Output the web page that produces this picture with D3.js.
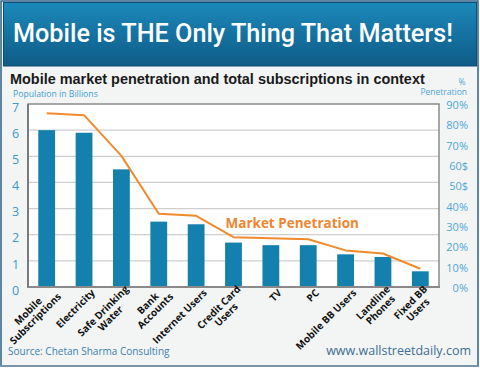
<!DOCTYPE html>
<html><head><meta charset="utf-8">
<script src="https://cdn.jsdelivr.net/npm/d3@7"></script>
<style>body{margin:0;background:#fff}svg{display:block}</style>
</head><body>
<svg id="c" width="480" height="368"></svg>
<script>
const categories = ["Mobile Subscriptions","Electricity","Safe Drinking Water","Bank Accounts","Internet Users","Credit Card Users","TV","PC","Mobile BB Users","Landline Phones","Fixed BB Users"];
const labelLines = [["Mobile","Subscriptions"],["Electricity"],["Safe Drinking","Water"],["Bank","Accounts"],["Internet Users"],["Credit Card","Users"],["TV"],["PC"],["Mobile BB Users"],["Landline","Phones"],["Fixed BB","Users"]];
const subscriptions = [6.0, 5.9, 4.5, 2.5, 2.4, 1.7, 1.6, 1.6, 1.25, 1.15, 0.6];
const penetration = [85.5, 84.5, 64.5, 36, 35, 24.5, 24, 23.5, 18, 16.5, 9];
const leftTicks = [0,1,2,3,4,5,6,7];
const rightTicks = [0,10,20,30,40,50,60,70,80,90];
const rightTickLabels = ["0%","10%","20%","30%","40%","50$","60$","70%","80%","90%"];
const title = "Mobile is THE Only Thing That Matters!";
const subtitle = "Mobile market penetration and total subscriptions in context";

const svg = d3.select("#c");
const plot = {l: 28, r: 439, t: 104, b: 287};

// frame
svg.append("rect").attr("x",1).attr("y",1).attr("width",477).attr("height",365)
  .attr("fill","#f3f5f5").attr("stroke","#2d5f88").attr("stroke-width",1.5);
svg.append("line").attr("x1",1).attr("x2",478).attr("y1",366).attr("y2",366)
  .attr("stroke","#7893aa").attr("stroke-width",2);

// banner
const defs = svg.append("defs");
const grad = defs.append("linearGradient").attr("id","bg").attr("x1",0).attr("x2",0).attr("y1",0).attr("y2",1);
grad.append("stop").attr("offset","0%").attr("stop-color","#1b89bb");
grad.append("stop").attr("offset","100%").attr("stop-color","#0f5b86");
svg.append("rect").attr("x",3.5).attr("y",2.5).attr("width",473).attr("height",63.5)
  .attr("fill","url(#bg)").attr("stroke","#0e4d75").attr("stroke-width",1);

function fit(sel, target){
  const len = sel.node().getComputedTextLength();
  if (len>0){ const fs = parseFloat(sel.attr("font-size")); sel.attr("font-size", fs*target/len); }
}
const t = svg.append("text").attr("x",13).attr("y",42).attr("fill","#fff")
  .attr("font-family","Roboto, 'DejaVu Sans', sans-serif").attr("font-weight",500)
  .attr("font-size",23).text(title);
fit(t, 440);

const st = svg.append("text").attr("x",10).attr("y",84).attr("fill","#1a1a1a")
  .attr("font-family","'Liberation Sans', Arial, sans-serif").attr("font-weight","bold")
  .attr("font-size",14).text(subtitle);
fit(st, 415);

// scales
const x = d3.scaleBand().domain(categories).range([plot.l, plot.r]).paddingInner(0.55).paddingOuter(0.275);
const y = d3.scaleLinear().domain([0,7]).range([plot.b, plot.t]);
const yp = d3.scaleLinear().domain([0,90]).range([plot.b, plot.t]);

// plot bg
svg.append("rect").attr("x",plot.l).attr("y",plot.t).attr("width",plot.r-plot.l).attr("height",plot.b-plot.t).attr("fill","#fff");

// grid
svg.append("g").selectAll("line").data(leftTicks.filter(d=>d>0 && d<7)).join("line")
  .attr("x1",plot.l).attr("x2",plot.r).attr("y1",d=>y(d)).attr("y2",d=>y(d))
  .attr("stroke","#cfcfcf").attr("stroke-width",1.2);

// bars
svg.append("g").selectAll("rect").data(categories).join("rect")
  .attr("x",d=>x(d)).attr("width",x.bandwidth())
  .attr("y",(d,i)=>y(subscriptions[i])).attr("height",(d,i)=>y(0)-y(subscriptions[i]))
  .attr("fill","#1480ad");

// border
svg.append("path").attr("d",`M${plot.l},${plot.b}V${plot.t}H${plot.r}V${plot.b}`)
  .attr("fill","none").attr("stroke","#8a8a8a").attr("stroke-width",1.5);
svg.append("line").attr("x1",plot.l-1).attr("x2",plot.r+1).attr("y1",plot.b).attr("y2",plot.b)
  .attr("stroke","#8a8a8a").attr("stroke-width",2);
svg.append("line").attr("x1",plot.l).attr("x2",plot.l).attr("y1",plot.t).attr("y2",plot.b)
  .attr("stroke","#7a7a7a").attr("stroke-width",2);

// line
const line = d3.line().x((d,i)=>x(categories[i])+x.bandwidth()/2).y(d=>yp(d));
svg.append("path").datum(penetration).attr("d",line).attr("fill","none")
  .attr("stroke","#ef8a2d").attr("stroke-width",2).attr("stroke-linejoin","round");

svg.append("text").attr("x",x(categories[5])+x.bandwidth()/2-8).attr("y",yp(29))
  .attr("fill","#ee8530").attr("font-family","'Open Sans', sans-serif").attr("font-weight","bold")
  .attr("font-size",13.5).text("Market Penetration");

// left axis
const gl = svg.append("g").attr("transform",`translate(${plot.l},0)`)
  .call(d3.axisLeft(y).tickValues(leftTicks).tickSize(0).tickPadding(9).tickFormat(d3.format("d")));
gl.select(".domain").remove();
gl.selectAll("text").attr("font-family","'Open Sans', sans-serif").attr("font-size",12.5)
  .attr("fill","#3a98cc").attr("text-anchor","middle").attr("x",-12.5).attr("dy","0.58em");

// right axis
const gr = svg.append("g").attr("transform",`translate(${plot.r},0)`)
  .call(d3.axisRight(yp).tickValues(rightTicks).tickSize(0).tickPadding(0).tickFormat((d,i)=>rightTickLabels[i]));
gr.select(".domain").remove();
gr.selectAll("text").attr("font-family","'Open Sans', sans-serif").attr("font-size",11)
  .attr("fill","#4ea6d8").attr("text-anchor","end").attr("x",29).attr("dy","0.4em");

// axis titles
const pt = svg.append("text").attr("x",13).attr("y",96.5).attr("fill","#3f9fd2")
  .attr("font-family","'Open Sans', sans-serif").attr("font-size",8.5).text("Population in Billions");
fit(pt, 85);
svg.append("text").attr("x",462).attr("y",85).attr("text-anchor","middle").attr("fill","#4ea6d8")
  .attr("font-family","'Open Sans', sans-serif").attr("font-size",8.5).text("%");
svg.append("text").attr("x",467).attr("y",94.5).attr("text-anchor","end").attr("fill","#4ea6d8")
  .attr("font-family","'Open Sans', sans-serif").attr("font-size",8.5).text("Penetration");

// x labels
const lh = 10.5;
categories.forEach((c,i)=>{
  const g = svg.append("g").attr("transform",`translate(${x(c)+x.bandwidth()/2+9},291) rotate(-45)`);
  const lines = labelLines[i];
  const texts = lines.map((ln,j)=> g.append("text").attr("text-anchor","middle")
    .attr("font-family","'Open Sans', sans-serif").attr("font-weight","bold").attr("font-size",10)
    .attr("fill","#111").attr("dy","0.35em")
    .attr("y",(j-(lines.length-1)/2)*lh).text(ln));
  const Wm = d3.max(texts, tx=>tx.node().getComputedTextLength());
  texts.forEach(tx=>tx.attr("x",-Wm/2));
});

// footer
svg.append("text").attr("x",8).attr("y",355).attr("fill","#3b7fae")
  .attr("font-family","'Open Sans', sans-serif").attr("font-size",10).text("Source: Chetan Sharma Consulting");
svg.append("text").attr("x",471).attr("y",355).attr("text-anchor","end").attr("fill","#3d6e93")
  .attr("font-family","'Open Sans', sans-serif").attr("font-size",12.5).text("www.wallstreetdaily.com");
</script>
</body></html>
